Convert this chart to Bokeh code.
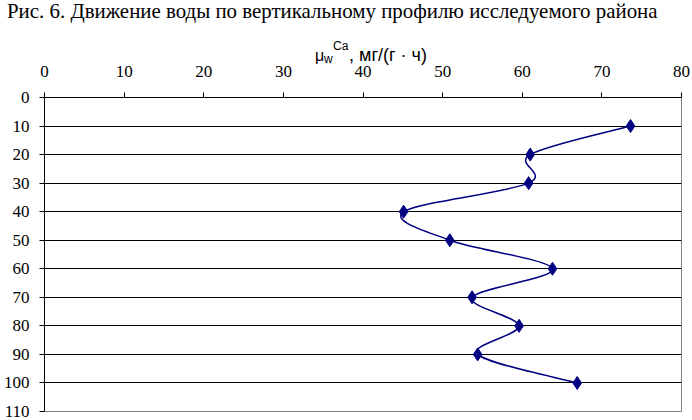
from bokeh.plotting import figure
from bokeh.models import Range1d, FixedTicker, ColumnDataSource, Div
from bokeh.layouts import column
from bokeh.embed import file_html
from bokeh.resources import INLINE

# Data: depth (vertical profile) and mu_w^Ca values, mg/(g*h)
depth = [10, 20, 30, 40, 50, 60, 70, 80, 90, 100]
mu_ca = [73.6, 61.0, 60.8, 45.1, 50.9, 63.8, 53.7, 59.6, 54.4, 66.9]
x_ticks = [0, 10, 20, 30, 40, 50, 60, 70, 80]
y_ticks = [0, 10, 20, 30, 40, 50, 60, 70, 80, 90, 100, 110]

title_text = "Рис. 6. Движение воды по вертикальному профилю исследуемого района"
axis_title_parts = ["μ", "w", "Ca", ", мг/(г · ч)"]

NAVY = "#000080"
SERIF = "Liberation Serif"
SANS = "Liberation Sans"
W = 692
HEAD_H = 48


def span(txt, left, top, font, size):
    return (f'<span style="position:absolute;left:{left}px;top:{top}px;z-index:10;'
            f"font-family:'{font}';font-size:{size}px;line-height:1;"
            f'white-space:nowrap;color:#000;margin:0;padding:0;">{txt}</span>')


head_html = (
    f'<div style="position:relative;width:{W}px;height:{HEAD_H}px;margin:0;padding:0;overflow:visible;">'
    + span(title_text, 7, 1.3, SERIF, 20.9)
    + span(axis_title_parts[0], 315, 47.5, SANS, 16)
    + span(axis_title_parts[1], 324, 52.8, SANS, 12)
    + span(axis_title_parts[2], 333, 39.8, SANS, 12)
    + span(axis_title_parts[3], 349, 45.8, SANS, 18)
    + '</div>'
)
head = Div(text=head_html, width=W, height=HEAD_H, margin=0, styles={"overflow": "visible", "z-index": "10"})

# ---- main chart ----
p = figure(width=W, height=420 - HEAD_H, output_backend="svg", toolbar_location=None,
           x_axis_location="above", x_range=Range1d(0, 80), y_range=Range1d(110, 0),
           min_border_left=42, min_border_right=11, min_border_top=97 - HEAD_H,
           min_border_bottom=9)
p.outline_line_color = "#808080"
p.outline_line_width = 1
p.border_fill_color = None
p.background_fill_color = "white"

for ax in (p.xaxis[0], p.yaxis[0]):
    ax.axis_line_color = "black"
    ax.axis_line_width = 1
    ax.major_tick_line_color = "black"
    ax.major_tick_out = 5
    ax.major_tick_in = 0
    ax.minor_tick_line_color = None
    ax.major_label_text_font = SERIF
    ax.major_label_text_font_size = "17px"
    ax.major_label_text_color = "black"
p.xaxis.ticker = FixedTicker(ticks=x_ticks)
p.yaxis.ticker = FixedTicker(ticks=y_ticks)
p.xaxis.major_label_standoff = 16
p.yaxis.major_label_standoff = 10

p.xgrid.grid_line_color = None
p.ygrid.ticker = FixedTicker(ticks=y_ticks[1:-1])
p.ygrid.grid_line_color = "black"
p.ygrid.grid_line_width = 1

# smoothed line (Catmull-Rom -> cubic Bezier, like a spreadsheet "smoothed line")
n = len(depth)
x0, y0, x1, y1, cx0, cy0, cx1, cy1 = ([] for _ in range(8))
for i in range(n - 1):
    pa = (mu_ca[max(i - 1, 0)], depth[max(i - 1, 0)])
    pb = (mu_ca[i], depth[i])
    pc = (mu_ca[i + 1], depth[i + 1])
    pd = (mu_ca[min(i + 2, n - 1)], depth[min(i + 2, n - 1)])
    x0.append(pb[0]); y0.append(pb[1])
    x1.append(pc[0]); y1.append(pc[1])
    cx0.append(pb[0] + (pc[0] - pa[0]) / 6.0); cy0.append(pb[1] + (pc[1] - pa[1]) / 6.0)
    cx1.append(pc[0] - (pd[0] - pb[0]) / 6.0); cy1.append(pc[1] - (pd[1] - pb[1]) / 6.0)
src = ColumnDataSource(dict(x0=x0, y0=y0, x1=x1, y1=y1, cx0=cx0, cy0=cy0, cx1=cx1, cy1=cy1))
p.bezier(x0="x0", y0="y0", x1="x1", y1="y1", cx0="cx0", cy0="cy0", cx1="cx1", cy1="cy1",
         source=src, line_color=NAVY, line_width=1.5)

p.scatter(mu_ca, depth, marker="diamond", size=13, fill_color=NAVY, line_color=NAVY)

layout = column(head, p, spacing=0)
open("out.html", "w").write(file_html(layout, INLINE))
